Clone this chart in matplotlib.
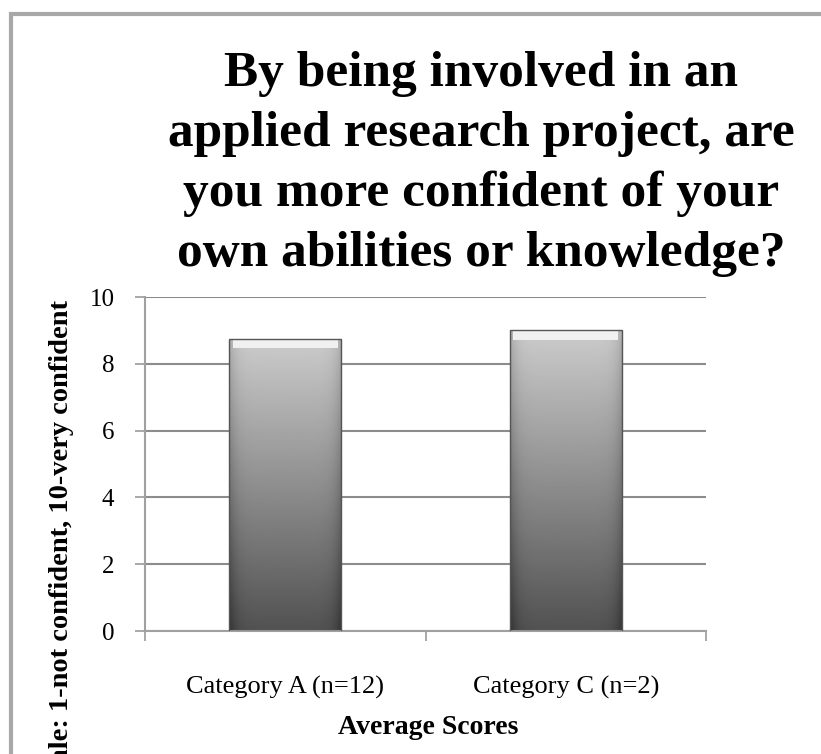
import numpy as np
import matplotlib.pyplot as plt
from matplotlib.patches import Rectangle

# dados
categorias = ['Category A (n=12)', 'Category C (n=2)']
medias = [8.75, 9.0]
yticks = [0, 2, 4, 6, 8, 10]

titulo = ['By being involved in an', 'applied research project, are',
          'you more confident of your', 'own abilities or knowledge?']
serif = ['Liberation Serif', 'DejaVu Serif']

fig = plt.figure(figsize=(8.21, 7.54), dpi=100)
ax = fig.add_axes([145/821, 1 - 631/754, (706 - 145)/821, (631 - 297)/754])

# moldura cinza do gráfico (cortada à direita e embaixo)
fig.patches.append(Rectangle((11/821, -0.1), 1.2, 1.1 - 14/754, transform=fig.transFigure,
                             fill=False, edgecolor='#a8a8a8', linewidth=3))

x = np.arange(len(categorias))
barras = ax.bar(x, medias, width=0.4, color='none', edgecolor='#555555', linewidth=1, zorder=3)

# gradiente vertical + bordas escuras nas barras
gy = np.linspace(0.32, 0.80, 200)[:, None]
gx = np.linspace(-1, 1, 60)[None, :]
grad = gy - 0.12 * np.abs(gx) ** 8
for b in barras:
    x0, w, h = b.get_x(), b.get_width(), b.get_height()
    im = ax.imshow(grad, cmap='gray', vmin=0, vmax=1, origin='lower', aspect='auto',
                   extent=[x0, x0 + w, 0, h], zorder=2)
    im.set_clip_path(b)
    ax.add_patch(Rectangle((x0 + 0.012, h - 0.28), w - 0.024, 0.25, facecolor='#f0f0f0',
                           edgecolor='none', zorder=2.5))

ax.set_xlim(-0.5, 1.5)
ax.set_ylim(0, 10)
ax.set_yticks(yticks)
ax.set_xticks([-0.5, 0.5, 1.5])
ax.set_xticklabels([])
ax.set_xticks(x, minor=True)
ax.set_xticklabels(categorias, minor=True, family=serif, fontsize=19)
ax.tick_params(axis='x', which='minor', length=0, pad=32)
ax.tick_params(axis='x', which='major', length=7, color='#999999', width=1.2)
ax.tick_params(axis='y', length=7, color='#999999', width=1.2, pad=15, labelsize=18)
for t in ax.get_yticklabels():
    t.set_family(serif)

ax.grid(axis='y', color='#8c8c8c', linewidth=1.5, zorder=0)
ax.set_axisbelow(True)
for s in ['top', 'right']:
    ax.spines[s].set_visible(False)
for s in ['left', 'bottom']:
    ax.spines[s].set_color('#a0a0a0')
    ax.spines[s].set_linewidth(1.5)

for i, linha in enumerate(titulo):
    fig.text(481/821, 1 - (74 + 60*i)/754, linha, ha='center', va='center', family=serif,
             fontweight='bold', fontsize=37)
fig.text(428/821, 1 - 728/754, 'Average Scores', ha='center', va='center', family=serif,
         fontweight='bold', fontsize=20)
fig.text(62/821, 1 - 300/754, 'Scale: 1-not confident, 10-very confident', rotation=90,
         ha='center', va='top', family=serif, fontweight='bold', fontsize=20.5)

plt.savefig('out.png', dpi=100)
